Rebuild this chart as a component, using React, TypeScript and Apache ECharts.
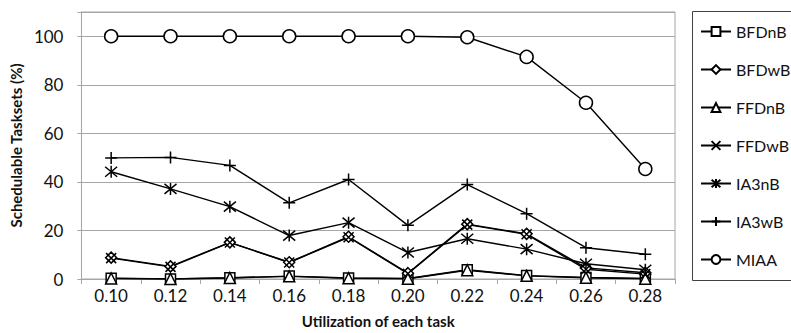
import React, { useEffect, useRef } from "react";
import * as echarts from "echarts";

const categories = ["0.10", "0.12", "0.14", "0.16", "0.18", "0.20", "0.22", "0.24", "0.26", "0.28"];
const BFDnB = [0.3, 0, 0.5, 1.2, 0.4, 0.2, 3.8, 1.4, 0.6, 0.2];
const BFDwB = [8.8, 5.2, 15.1, 6.9, 17.4, 2.4, 22.6, 18.6, 4.6, 2.6];
const FFDnB = [0.2, 0, 0.4, 1.1, 0.3, 0.1, 3.6, 1.3, 0.5, 0.1];
const FFDwB = [8.6, 5.0, 15.0, 6.8, 17.2, 2.2, 22.4, 18.4, 4.0, 2.0];
const IA3nB = [44.2, 37.1, 29.8, 17.9, 23.2, 10.9, 16.6, 12.3, 6.3, 3.8];
const IA3wB = [49.9, 50.1, 46.8, 31.4, 41.0, 22.1, 38.9, 26.9, 12.9, 10.2];
const MIAA = [100, 100, 100, 100, 100, 100, 99.6, 91.5, 72.6, 45.3];

const FONT = "Lato";

const SYM_X = "path://M0 0L10 10M10 0L0 10";
const SYM_STAR = "path://M0 0L10 10M10 0L0 10M5 -1L5 11";
const SYM_PLUS = "path://M5 0L5 10M0 5L10 5";

function mk(name: string, data: number[], symbol: string, size: number) {
  return {
    name,
    type: "line",
    data,
    symbol,
    symbolSize: size,
    showAllSymbol: true,
    lineStyle: { color: "#000", width: 1.4 },
    itemStyle: { color: "#fff", borderColor: "#000", borderWidth: 1.5 },
    emphasis: { disabled: true },
  };
}

export default function App() {
  const ref = useRef<HTMLDivElement>(null);
  useEffect(() => {
    if (!ref.current) return;
    const chart = echarts.init(ref.current, null, { renderer: "svg" });
    chart.setOption({
      animation: false,
      grid: {
        left: 80,
        top: 12,
        right: 116,
        bottom: 54,
        show: true,
        borderColor: "#a6a6a6",
        borderWidth: 1,
        backgroundColor: "transparent",
      },
      graphic: [
        {
          type: "polyline",
          shape: { points: [[900, 11.5], [692.5, 11.5], [692.5, 280.5], [900, 280.5]] },
          style: { fill: "none", stroke: "#404040", lineWidth: 1 },
          silent: true,
        },
      ],
      legend: {
        orient: "vertical",
        left: 700,
        top: 23.5,
        padding: 0,
        itemWidth: 30,
        itemHeight: 11,
        itemGap: 22,
        textStyle: { fontFamily: FONT, fontSize: 16, color: "#111", lineHeight: 11 },
        data: ["BFDnB", "BFDwB", "FFDnB", "FFDwB", "IA3nB", "IA3wB", "MIAA"],
      },
      xAxis: {
        type: "category",
        data: categories,
        boundaryGap: true,
        name: "Utilization of each task",
        nameLocation: "middle",
        nameGap: 34,
        nameTextStyle: { fontFamily: FONT, fontSize: 15, fontWeight: "bold", color: "#111" },
        axisLine: { show: true, lineStyle: { color: "#a6a6a6", width: 1 } },
        axisTick: { show: true, length: 5, lineStyle: { color: "#a6a6a6" } },
        axisLabel: { fontFamily: FONT, fontSize: 17, color: "#111", margin: 8 },
        splitLine: { show: false },
      },
      yAxis: {
        type: "value",
        min: 0,
        max: 110,
        interval: 20,
        name: "Schedulable Tasksets (%)",
        nameLocation: "middle",
        nameGap: 54,
        nameRotate: 90,
        nameTextStyle: { fontFamily: FONT, fontSize: 15, fontWeight: "bold", color: "#111" },
        axisLine: { show: true, lineStyle: { color: "#a6a6a6", width: 1 } },
        axisTick: { show: true, length: 4, lineStyle: { color: "#a6a6a6" } },
        axisLabel: {
          fontFamily: FONT,
          fontSize: 17,
          color: "#111",
          margin: 18,
          formatter: (v: number) => (v > 100 ? "" : String(v)),
        },
        splitLine: { show: true, lineStyle: { color: "#a6a6a6", width: 1 } },
      },
      series: [
        mk("BFDnB", BFDnB, "rect", 10),
        mk("BFDwB", BFDwB, "diamond", 11),
        mk("FFDnB", FFDnB, "triangle", 11),
        mk("FFDwB", FFDwB, SYM_X, 10),
        mk("IA3nB", IA3nB, SYM_STAR, 12),
        mk("IA3wB", IA3wB, SYM_PLUS, 12),
        mk("MIAA", MIAA, "circle", 13),
      ],
    });
    return () => chart.dispose();
  }, []);
  return <div ref={ref} style={{ width: 791, height: 333, position: "absolute", left: 0, top: 0 }} />;
}
